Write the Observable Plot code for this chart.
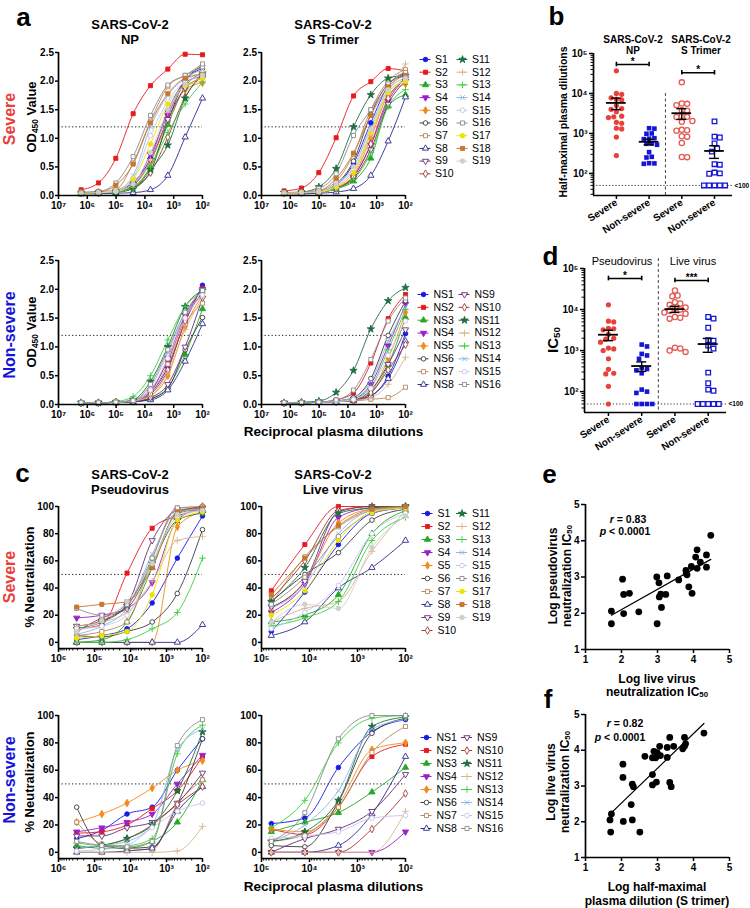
<!DOCTYPE html>
<html><head><meta charset="utf-8">
<script src="https://cdn.jsdelivr.net/npm/d3@7"></script>
<script src="https://cdn.jsdelivr.net/npm/@observablehq/plot@0.6"></script>
<style>
body{margin:0;background:#fff;}
#fig{position:relative;width:750px;height:908px;overflow:hidden;font-family:"Liberation Sans",Arial,sans-serif;color:#000;background:#fff;}
.t{position:absolute;white-space:nowrap;line-height:1;text-align:center;}
sub{font-size:0.65em;vertical-align:-0.25em;line-height:0;}
svg{overflow:visible;}
</style></head><body><div id="fig"></div>
<script>
// ---------------- DATA ----------------
const severeIds = ["S1","S2","S3","S4","S5","S6","S7","S8","S9","S10","S11","S12","S13","S14","S15","S16","S17","S18","S19"];
const nonSevereIds = ["NS1","NS2","NS3","NS4","NS5","NS6","NS7","NS8","NS9","NS10","NS11","NS12","NS13","NS14","NS15","NS16"];
const dilutionsOD = [1638400, 409600, 102400, 25600, 6400, 1600, 400, 100];
const dilutionsPseudo = [312500, 62500, 12500, 2500, 500, 100];
const dilutionsLive = [62500, 12500, 2500, 500, 100];
const odDecades = [1e7, 1e6, 1e5, 1e4, 1e3, 1e2];
const pseudoDecades = [1e6, 1e5, 1e4, 1e3, 1e2];
const liveDecades = [1e5, 1e4, 1e3, 1e2];
const odTicks = [0, 0.5, 1.0, 1.5, 2.0, 2.5];
const neutTicks = [0, 20, 40, 60, 80, 100];
const logDecades = [1e2, 1e3, 1e4, 1e5];
const scatterTicks = [1, 2, 3, 4, 5];
const groupLabels = ["Severe", "Non-severe", "Severe", "Non-severe"];

// OD450 (panel a)
const odNPSevere = [
 [0.05,0.05,0.09,0.23,0.65,1.48,2.02,2.27],
 [0.10,0.22,0.65,1.43,1.92,2.21,2.47,2.46],
 [0.04,0.05,0.07,0.15,0.50,1.24,1.90,2.15],
 [0.05,0.05,0.08,0.20,0.72,1.40,1.98,2.08],
 [0.04,0.05,0.07,0.17,0.58,1.30,1.85,1.97],
 [0.04,0.05,0.06,0.14,0.42,1.30,2.00,2.22],
 [0.05,0.06,0.10,0.57,1.30,1.90,2.10,2.25],
 [0.03,0.03,0.04,0.05,0.10,0.35,1.02,1.70],
 [0.04,0.05,0.07,0.18,0.62,1.33,1.88,2.05],
 [0.04,0.05,0.06,0.12,0.40,1.02,1.72,2.10],
 [0.04,0.05,0.06,0.12,0.45,0.88,1.70,2.14],
 [0.04,0.05,0.07,0.20,0.62,1.45,1.90,2.00],
 [0.04,0.05,0.06,0.14,0.50,1.10,1.60,1.98],
 [0.05,0.06,0.09,0.35,1.20,1.75,2.05,2.20],
 [0.05,0.06,0.08,0.30,1.05,1.65,2.00,2.15],
 [0.06,0.07,0.22,0.68,1.40,1.93,2.10,2.30],
 [0.05,0.05,0.08,0.28,0.90,1.60,1.92,2.05],
 [0.05,0.06,0.18,0.55,1.27,1.78,2.05,2.12],
 [0.04,0.05,0.07,0.20,0.75,1.50,1.95,2.10]
];
const odSTrimerSevere = [
 [0.05,0.05,0.07,0.18,0.56,1.27,1.92,2.15],
 [0.08,0.13,0.40,1.01,1.74,1.99,2.22,2.18],
 [0.04,0.05,0.06,0.12,0.25,0.65,1.56,1.76],
 [0.04,0.05,0.06,0.13,0.33,0.88,1.65,2.05],
 [0.04,0.05,0.06,0.14,0.35,1.00,1.75,1.95],
 [0.04,0.05,0.07,0.20,0.60,1.42,1.95,2.10],
 [0.04,0.05,0.08,0.25,0.72,1.50,2.00,2.20],
 [0.03,0.03,0.04,0.06,0.12,0.35,0.95,1.72],
 [0.04,0.05,0.06,0.12,0.30,0.80,1.60,2.00],
 [0.04,0.05,0.06,0.12,0.33,0.90,1.70,2.05],
 [0.05,0.06,0.15,0.47,1.20,1.76,2.05,2.10],
 [0.04,0.05,0.06,0.14,0.40,1.05,1.80,2.30],
 [0.04,0.05,0.06,0.12,0.28,0.75,1.55,1.85],
 [0.04,0.05,0.07,0.18,0.50,1.20,1.85,2.05],
 [0.04,0.05,0.07,0.16,0.45,1.10,1.80,2.00],
 [0.05,0.06,0.12,0.38,1.05,1.50,1.95,2.15],
 [0.04,0.05,0.06,0.15,0.40,1.10,1.80,2.00],
 [0.04,0.05,0.08,0.30,0.74,1.40,1.90,2.10],
 [0.04,0.05,0.07,0.20,0.50,1.15,1.85,2.05]
];
const odNPNonSevere = [
 [0.03,0.03,0.04,0.06,0.20,0.65,1.43,2.07],
 [0.03,0.03,0.04,0.07,0.25,0.76,1.50,2.02],
 [0.03,0.03,0.04,0.05,0.10,0.30,0.87,1.66],
 [0.03,0.03,0.04,0.06,0.22,0.80,1.55,2.00],
 [0.03,0.03,0.04,0.06,0.15,0.50,1.35,1.90],
 [0.03,0.03,0.04,0.05,0.10,0.28,0.95,1.51],
 [0.03,0.03,0.04,0.06,0.20,0.70,1.40,1.76],
 [0.03,0.03,0.03,0.05,0.08,0.25,0.75,1.40],
 [0.03,0.03,0.04,0.05,0.12,0.35,1.00,1.85],
 [0.03,0.03,0.04,0.06,0.18,0.60,1.45,1.95],
 [0.03,0.03,0.04,0.08,0.40,1.00,1.70,1.98],
 [0.03,0.03,0.04,0.06,0.15,0.55,1.30,1.85],
 [0.03,0.03,0.05,0.14,0.50,1.12,1.70,1.95],
 [0.03,0.03,0.04,0.07,0.30,0.90,1.55,1.92],
 [0.03,0.03,0.04,0.06,0.25,0.80,1.50,1.90],
 [0.03,0.03,0.04,0.07,0.35,0.95,1.60,1.98]
];
const odSTrimerNonSevere = [
 [0.03,0.03,0.04,0.06,0.08,0.15,0.49,1.23],
 [0.03,0.03,0.04,0.08,0.20,0.72,1.49,1.91],
 [0.03,0.03,0.04,0.05,0.07,0.20,0.69,1.51],
 [0.03,0.03,0.04,0.06,0.10,0.35,1.02,1.74],
 [0.03,0.03,0.04,0.05,0.08,0.22,0.80,1.60],
 [0.03,0.03,0.04,0.06,0.12,0.45,1.20,1.80],
 [0.03,0.03,0.04,0.05,0.06,0.09,0.12,0.30],
 [0.03,0.03,0.04,0.05,0.07,0.15,0.45,1.10],
 [0.03,0.03,0.04,0.05,0.08,0.25,0.70,1.30],
 [0.03,0.03,0.04,0.05,0.07,0.20,0.60,1.04],
 [0.03,0.04,0.06,0.21,0.59,1.31,1.80,2.03],
 [0.03,0.03,0.04,0.05,0.07,0.12,0.35,0.82],
 [0.03,0.03,0.04,0.06,0.10,0.30,0.95,1.65],
 [0.03,0.03,0.04,0.06,0.12,0.40,1.10,1.70],
 [0.03,0.03,0.04,0.05,0.09,0.28,0.85,1.45],
 [0.03,0.03,0.04,0.08,0.25,0.78,1.45,1.85]
];
// % neutralization (panel c)
const neutPseudoSevere = [
 [2,5,10,29,62,93],[10,13,51,84,93,98],[0,2,15,55,95,98],[18,20,25,44,90,99],
 [0,0,0,0,85,96],[5,4,8,15,36,83],[5,8,15,62,99,99],[0,0,0,0,0,13],
 [12,16,28,75,97,99],[8,18,25,58,95,100],[10,15,27,58,90,95],[12,15,22,45,75,78],
 [0,0,2,10,22,62],[6,12,25,65,96,98],[10,12,20,58,92,97],[25,20,28,62,99,100],
 [3,5,8,35,90,96],[26,28,30,55,96,99],[8,16,30,58,94,97]
];
const neutLiveSevere = [
 [8,37,72,95,99],[38,72,100,100,100],[15,20,35,80,97],[22,43,92,99,100],
 [25,45,88,98,99],[30,50,66,90,98],[28,63,85,97,99],[5,15,40,55,75],
 [26,45,96,100,100],[32,60,97,100,100],[30,55,95,99,100],[15,25,30,67,97],
 [12,18,30,75,92],[25,42,80,97,99],[10,22,42,80,95],[28,48,78,95,99],
 [20,38,75,96,99],[35,62,86,98,100],[15,28,25,70,93]
];
const neutPseudoNonSevere = [
 [10,16,28,33,60,83],[14,15,20,32,45,70],[5,3,3,8,22,53],[15,18,22,28,50,71],
 [22,28,36,47,60,67],[33,5,3,4,35,83],[22,6,3,2,35,53],[0,0,1,3,30,48],
 [12,12,18,22,36,58],[3,5,10,20,35,48],[3,5,10,20,45,88],[0,0,0,0,1,19],
 [7,5,5,10,72,93],[3,5,8,20,75,90],[1,2,5,18,30,36],[8,5,4,8,78,97]
];
const neutLiveNonSevere = [
 [21,25,62,88,97],[17,13,33,70,79],[15,22,29,44,62],[0,0,0,0,15],
 [17,15,35,75,80],[5,4,37,87,98],[8,13,33,73,92],[0,0,5,28,70],
 [0,10,17,30,57],[0,0,0,17,43],[8,15,38,92,99],[0,0,0,0,30],
 [18,38,80,98,100],[8,20,45,90,97],[10,12,15,25,27],[8,29,83,100,100]
];
// Half-maximal plasma dilutions (panel b); values below 100 plotted at 50
const halfMaxNPSevere = [37000,10000,9500,7800,7200,6900,5000,4200,4000,3500,2700,2600,2500,1900,1800,1350,1300,810,280];
const halfMaxNPNonSevere = [1350,1320,1000,980,760,740,720,560,550,520,340,260,250,180,178,174];
const halfMaxSSevere = [19000,5600,5500,5100,3800,3700,2700,2600,2570,2040,1950,1230,1200,1170,850,830,575,257,255];
const halfMaxSNonSevere = [2000,830,790,560,420,350,170,165,105,100,98,50,50,50,50,50];
const sigLabelsB = ["*", "*"];
const sigLevelsB = [53000, 33000];
// IC50 (panel d)
const ic50PseudoSevere = [13000,5200,5000,3500,3400,3200,2500,2000,1900,1600,1150,1100,1000,630,350,280,270,135,50];
const ic50PseudoNonSevere = [1400,1260,830,760,630,380,355,330,280,112,100,93,50,50,50,50];
const ic50LiveSevere = [29000,22000,21000,15000,14000,13000,11200,10500,10000,9300,8500,7900,6600,6300,6000,1180,1120,1000,930];
const ic50LiveNonSevere = [6600,6000,3600,1800,1740,1320,1120,290,160,112,105,50,50,50,50,50];
const sigLabelsD = ["*", "***"];
const sigLevelsD = [57000, 51000];
// Correlations (panels e, f)
const eLogLiveIC50 = [4.48,4.10,4.06,4.36,4.19,3.94,4.10,4.36,3.79,3.80,3.82,3.59,3.87,3.96,2.98,3.27,3.04,3.09,3.05,3.23,3.11,2.99,2.03,2.06,2.22,2.06,2.48,1.72,1.72];
const eLogPseudoIC50 = [4.15,3.75,3.55,3.61,3.41,3.29,3.24,3.27,3.18,3.10,3.06,2.92,2.73,2.55,3.00,3.03,2.84,2.53,2.45,2.52,2.16,1.71,2.94,2.52,2.55,1.99,2.04,2.06,1.71];
const fLogSTrimer = [4.29,3.75,3.34,3.75,3.78,3.70,3.45,3.27,3.06,2.90,2.99,3.08,3.27,2.86,2.95,2.65,2.86,2.97,2.86,3.34,3.38,2.30,2.33,2.04,2.04,2.27,1.72,1.68,2.05,2.30,1.70,2.51];
const fLogLiveIC50 = [4.48,4.36,4.36,4.11,4.18,4.04,4.11,4.08,4.11,3.97,3.93,3.85,3.80,3.79,3.79,3.83,3.32,3.11,3.03,3.10,2.98,3.05,2.98,3.61,3.24,2.48,2.22,2.05,2.01,2.05,1.71,1.71];

// ---------------- STYLES ----------------
const sampleColors = ["#1a1ae6","#e8191e","#22a822","#9c1fc8","#f28a1c","#3a3a3a","#b8875a","#2b2b8c","#6b2d72","#a23a34","#1f6e42","#d9b48a","#3ccf3c","#8cb6e6","#c6c4ee","#8c8c8c","#ece400","#c8762e","#cfcfcf"];
const sampleShapes = ["circle","square","triangle","triangleDown","diamond","circle","square","triangle","triangleDown","diamond","star","plus","plus","times","circle","square","circle","square","circle"];
const sampleFilled = [1,1,1,1,1,0,0,0,0,0,1,1,1,1,0,0,1,1,1];
const FONT = '"Liberation Sans", Arial, sans-serif';
const RED = "#e8413b", BLUE = "#1515d8";

const triangleDown = {draw(ctx, size) { const s3 = Math.sqrt(3); const y = -Math.sqrt(size / (s3 * 3)); ctx.moveTo(0, -y * 2); ctx.lineTo(-s3 * y, y); ctx.lineTo(s3 * y, y); ctx.closePath(); }};
const shapeOf = s => s === "triangleDown" ? triangleDown : s;
const supMap = {"0":"⁰","1":"¹","2":"²","3":"³","4":"⁴","5":"⁵","6":"⁶","7":"⁷","8":"⁸","9":"⁹"};
const supTen = v => "10" + String(Math.round(Math.log10(v))).split("").map(c => supMap[c]).join("");
function minorLog(lo, hi) { const out = []; for (let d = 10 ** Math.floor(Math.log10(lo)); d < hi; d *= 10) for (let k = 2; k <= 9; k++) { const v = d * k; if (v > lo && v < hi) out.push(v); } return out; }

const fig = document.getElementById("fig");
function put(node, x, y) { node.style.position = "absolute"; node.style.left = x + "px"; node.style.top = y + "px"; node.style.maxWidth = "none"; fig.appendChild(node); return node; }
function txt(html, x, y, css = {}, rot = false) {
  const d = document.createElement("div"); d.className = "t"; d.innerHTML = html;
  d.style.left = x + "px"; d.style.top = y + "px";
  d.style.transform = "translate(-50%,-50%)" + (rot ? " rotate(-90deg)" : "");
  Object.assign(d.style, css); fig.appendChild(d); return d;
}
function framePlot(fr, m, options) {
  const [ml, mt, mr, mb] = m;
  const svg = Plot.plot({
    width: fr.w + ml + mr, height: fr.h + mt + mb,
    marginLeft: ml, marginTop: mt, marginRight: mr, marginBottom: mb,
    style: {background: "transparent", fontFamily: FONT, fontSize: "10px", fontWeight: "bold", overflow: "visible", color: "#000"},
    ...options
  });
  return put(svg, fr.x - ml, fr.y - mt);
}

// ---------------- CURVE PANELS (a, c) ----------------
function curvePanel(fr, ids, values, dils, cfg) {
  const rows = values.flatMap((arr, i) => arr.map((v, j) => ({id: ids[i], i, x: dils[j], y: v})));
  const col = d => sampleColors[d.i];
  const marks = [
    Plot.ruleY([cfg.ref], {stroke: "#222", strokeDasharray: "1.3,2.2", strokeWidth: 1}),
    Plot.line(rows, {x: "x", y: "y", z: "id", stroke: col, strokeWidth: 0.9, curve: "monotone-x"}),
    Plot.dot(rows, {x: "x", y: "y", symbol: "id", r: 2.3, stroke: col, fill: d => sampleFilled[d.i] ? col(d) : "white", strokeWidth: 0.9}),
    Plot.ruleX([cfg.xDomain[0]], {strokeWidth: 1.7}),
    Plot.ruleY([cfg.yDomain[0]], {strokeWidth: 1.7}),
    Plot.axisY({ticks: cfg.yTicks, tickFormat: cfg.yFmt, tickSize: 3, tickPadding: 1.5, strokeWidth: 1.5, label: null}),
    Plot.axisX({ticks: cfg.xTicks, tickFormat: supTen, tickSize: 4, tickPadding: 2, strokeWidth: 1.5, label: null})
  ];
  if (cfg.minor) marks.push(Plot.axisX({ticks: minorLog(cfg.xDomain[1], cfg.xDomain[0]), tickFormat: () => "", tickSize: 2.5, strokeWidth: 1, label: null}));
  return framePlot(fr, [34, 6, 10, 24], {
    x: {type: "log", domain: cfg.xDomain},
    y: {domain: cfg.yDomain},
    symbol: {domain: ids, range: ids.map((_, i) => shapeOf(sampleShapes[i]))},
    marks
  });
}
const cfgOD = {yDomain: [0, 2.5], yTicks: odTicks, yFmt: d3.format(".1f"), ref: 1.2, xDomain: [1e7, 1e2], xTicks: odDecades, minor: false};
const cfgPseudo = {yDomain: [-4.5, 100], yTicks: neutTicks, yFmt: d => d, ref: 50, xDomain: [1e6, 1e2], xTicks: pseudoDecades, minor: true};
const cfgLive = {yDomain: [-4.5, 100], yTicks: neutTicks, yFmt: d => d, ref: 50, xDomain: [1e5, 1e2], xTicks: liveDecades, minor: true};

curvePanel({x: 58, y: 52, w: 144, h: 143}, severeIds, odNPSevere, dilutionsOD, cfgOD);
curvePanel({x: 261, y: 52, w: 144, h: 143}, severeIds, odSTrimerSevere, dilutionsOD, cfgOD);
curvePanel({x: 58, y: 260, w: 144, h: 144}, nonSevereIds, odNPNonSevere, dilutionsOD, cfgOD);
curvePanel({x: 261, y: 260, w: 144, h: 144}, nonSevereIds, odSTrimerNonSevere, dilutionsOD, cfgOD);
curvePanel({x: 58, y: 506, w: 144, h: 142}, severeIds, neutPseudoSevere, dilutionsPseudo, cfgPseudo);
curvePanel({x: 261, y: 506, w: 144, h: 142}, severeIds, neutLiveSevere, dilutionsLive, cfgLive);
curvePanel({x: 58, y: 715, w: 144, h: 143}, nonSevereIds, neutPseudoNonSevere, dilutionsPseudo, cfgPseudo);
curvePanel({x: 261, y: 715, w: 144, h: 143}, nonSevereIds, neutLiveNonSevere, dilutionsLive, cfgLive);

// ---------------- LEGENDS ----------------
function legendPlot(ids, perCol, x0, colGap, y0, sp, textGap) {
  const rows = ids.map((id, i) => ({id, i, cx: 6 + Math.floor(i / perCol) * colGap, cy: 6 + (i % perCol) * sp}));
  const W = 6 + colGap + 50, H = 12 + (perCol - 1) * sp;
  const col = d => sampleColors[d.i];
  const svg = Plot.plot({
    width: W, height: H, margin: 0,
    x: {domain: [0, W], range: [0, W], axis: null},
    y: {domain: [0, H], range: [0, H], axis: null},
    symbol: {domain: ids, range: ids.map((_, i) => shapeOf(sampleShapes[i]))},
    style: {background: "transparent", fontFamily: FONT, fontSize: "10.5px", overflow: "visible", color: "#000"},
    marks: [
      Plot.ruleY(rows, {y: "cy", x1: d => d.cx - 5.5, x2: d => d.cx + 5.5, stroke: col, strokeWidth: 1}),
      Plot.dot(rows, {x: "cx", y: "cy", symbol: "id", r: 2.3, stroke: col, fill: d => sampleFilled[d.i] ? col(d) : "white", strokeWidth: 0.9}),
      Plot.text(rows, {x: d => d.cx + textGap, y: "cy", text: "id", textAnchor: "start", fontSize: 10.5})
    ]
  });
  put(svg, x0 - 6, y0 - 6);
}
legendPlot(severeIds, 10, 425, 37, 59, 12.7, 9.5);
legendPlot(nonSevereIds, 8, 423, 41, 294, 12.86, 10);
legendPlot(severeIds, 10, 427, 34.5, 513, 13.0, 10);
legendPlot(nonSevereIds, 8, 425.5, 40.5, 737, 13.0, 10);

// ---------------- DOT PANELS (b, d) ----------------
function swarm(values, g, pxU, pxD, diam) {
  const order = values.map((v, k) => k).sort((a, b) => values[b] - values[a]);
  const placed = [], out = new Array(values.length);
  for (const k of order) {
    const yp = Math.log10(values[k]) * pxD;
    for (let s = 0; s < 60; s++) {
      const off = (s % 2 ? 1 : -1) * Math.ceil(s / 2) * diam * 0.5;
      if (placed.every(p => Math.hypot(p.x - off, p.y - yp) >= diam)) { placed.push({x: off, y: yp}); out[k] = g + off / pxU; break; }
    }
  }
  return out;
}
const groupStyles = [
  {color: RED, shape: "circle", filled: true},
  {color: BLUE, shape: "square", filled: true},
  {color: "#e45a55", shape: "circle", filled: false},
  {color: BLUE, shape: "square", filled: false}
];
function dotPanel(fr, groups, cfg) {
  const pxU = fr.w / (cfg.xDomain[1] - cfg.xDomain[0]);
  const pxD = fr.h / (Math.log10(cfg.yDomain[1]) - Math.log10(cfg.yDomain[0]));
  const pts = groups.flatMap((vals, g) => { const xs = swarm(vals, g, pxU, pxD, 5.3); return vals.map((v, k) => ({g, x: xs[k], y: v})); });
  const stats = groups.map((vals, g) => { const m = d3.mean(vals), s = d3.deviation(vals) / Math.sqrt(vals.length); return {g, m, lo: m - s, hi: m + s}; });
  const sig = cfg.sigLabels.map((t, k) => ({t, a: 2 * k, b: 2 * k + 1, y: cfg.sigLevels[k]}));
  return framePlot(fr, [36, 20, 24, 60], {
    x: {domain: cfg.xDomain},
    y: {type: "log", domain: cfg.yDomain},
    marks: [
      Plot.ruleY([50], {stroke: "#333", strokeDasharray: "1.2,2", strokeWidth: 1}),
      Plot.text(["<100"], {x: cfg.xDomain[1], y: 50, dx: 2, textAnchor: "start", fontSize: 6.5}),
      Plot.ruleX([1.5], {y1: cfg.sepTop, y2: cfg.yDomain[0], stroke: "#444", strokeDasharray: "3,2.5", strokeWidth: 1}),
      groups.map((_, g) => Plot.dot(pts.filter(p => p.g === g), {x: "x", y: "y", r: 2.6, symbol: groupStyles[g].shape,
        fill: groupStyles[g].filled ? groupStyles[g].color : "white", stroke: groupStyles[g].color, strokeWidth: groupStyles[g].filled ? 0 : 1.3})),
      Plot.ruleY(stats, {y: "m", x1: d => d.g - 0.3, x2: d => d.g + 0.3, strokeWidth: 1.8}),
      Plot.ruleX(stats, {x: "g", y1: "lo", y2: "hi", strokeWidth: 1.4}),
      Plot.ruleY(stats, {y: "lo", x1: d => d.g - 0.15, x2: d => d.g + 0.15, strokeWidth: 1.4}),
      Plot.ruleY(stats, {y: "hi", x1: d => d.g - 0.15, x2: d => d.g + 0.15, strokeWidth: 1.4}),
      Plot.ruleY(sig, {y: "y", x1: "a", x2: "b", strokeWidth: 1.6}),
      Plot.ruleX(sig, {x: "a", y1: d => d.y / 1.14, y2: d => d.y * 1.14, strokeWidth: 1.6}),
      Plot.ruleX(sig, {x: "b", y1: d => d.y / 1.14, y2: d => d.y * 1.14, strokeWidth: 1.6}),
      Plot.text(sig, {x: d => (d.a + d.b) / 2, y: "y", text: "t", dy: -2.5, fontSize: 10}),
      Plot.ruleX([cfg.xDomain[0]], {strokeWidth: 1.7}),
      Plot.ruleY([cfg.yDomain[0]], {strokeWidth: 1.7}),
      Plot.axisY({ticks: logDecades, tickFormat: supTen, tickSize: 4, tickPadding: 2, strokeWidth: 1.5, label: null}),
      Plot.axisY({ticks: minorLog(cfg.yDomain[0], cfg.yDomain[1]), tickFormat: () => "", tickSize: 2.5, strokeWidth: 1, label: null}),
      Plot.axisX({ticks: [0, 1, 2, 3], tickFormat: i => groupLabels[i], tickRotate: -33, tickSize: 4, tickPadding: 2, strokeWidth: 1.5, fontSize: 10, label: null})
    ]
  });
}
dotPanel({x: 593, y: 53, w: 139, h: 142}, [halfMaxNPSevere, halfMaxNPNonSevere, halfMaxSSevere, halfMaxSNonSevere],
  {xDomain: [-0.7, 3.55], yDomain: [28, 1e5], sepTop: 1e4, sigLabels: sigLabelsB, sigLevels: sigLevelsB});
dotPanel({x: 584, y: 268, w: 142, h: 144}, [ic50PseudoSevere, ic50PseudoNonSevere, ic50LiveSevere, ic50LiveNonSevere],
  {xDomain: [-0.72, 3.55], yDomain: [31, 1e5], sepTop: 1.75e5, sigLabels: sigLabelsD, sigLevels: sigLevelsD});

// ---------------- SCATTER PANELS (e, f) ----------------
function scatterPanel(fr, xs, ys) {
  const pts = xs.map((x, k) => ({x, y: ys[k]}));
  return framePlot(fr, [26, 8, 10, 24], {
    x: {domain: [1, 5]}, y: {domain: [1, 5]},
    marks: [
      Plot.ruleX([1], {strokeWidth: 1.7}),
      Plot.ruleY([1], {strokeWidth: 1.7}),
      Plot.axisX({ticks: scatterTicks, tickFormat: d => String(d), tickSize: 4, tickPadding: 2, strokeWidth: 1.5, label: null}),
      Plot.axisY({ticks: scatterTicks, tickFormat: d => String(d), tickSize: 4, tickPadding: 2, strokeWidth: 1.5, label: null}),
      Plot.linearRegressionY(pts, {x: "x", y: "y", ci: 0, stroke: "#000", strokeWidth: 1.2}),
      Plot.dot(pts, {x: "x", y: "y", r: 3.4, fill: "#000"})
    ]
  });
}
scatterPanel({x: 585, y: 504, w: 144, h: 145}, eLogLiveIC50, eLogPseudoIC50);
scatterPanel({x: 585, y: 714, w: 144, h: 143}, fLogSTrimer, fLogLiveIC50);

// ---------------- TEXT ----------------
const letter = {fontWeight: "bold", fontSize: "26px"};
txt("a", 23.5, 16.5, letter); txt("b", 556.5, 15.5, letter); txt("c", 22.5, 473, letter);
txt("d", 550.5, 256, letter); txt("e", 549.5, 474, letter); txt("f", 548, 699, letter);

const t13 = {fontWeight: "bold", fontSize: "13px", lineHeight: "14.5px"};
txt("SARS-CoV-2<br>NP", 130, 32, t13);
txt("SARS-CoV-2<br>S Trimer", 333, 32, t13);
txt("SARS-CoV-2<br>Pseudovirus", 130, 482, t13);
txt("SARS-CoV-2<br>Live virus", 333, 482, t13);
const t10 = {fontWeight: "bold", fontSize: "10px", lineHeight: "11px"};
txt("SARS-CoV-2<br>NP", 633, 45, t10);
txt("SARS-CoV-2<br>S Trimer", 701, 45, t10);
txt("Pseudovirus", 622, 261, {fontSize: "11px"});
txt("Live virus", 693, 261, {fontSize: "11px"});

const rowLab = c => ({fontWeight: "bold", fontSize: "16px", color: c});
txt("Severe", 10, 119, rowLab(RED), true);
txt("Non-severe", 10, 335, rowLab(BLUE), true);
txt("Severe", 10, 577, rowLab(RED), true);
txt("Non-severe", 10, 780, rowLab(BLUE), true);
const ax13 = {fontWeight: "bold", fontSize: "13px"};
txt("OD<sub>450</sub> Value", 31, 117, ax13, true);
txt("OD<sub>450</sub> Value", 31, 332, ax13, true);
txt("% Neutralization", 29, 577, ax13, true);
txt("% Neutralization", 29, 782, ax13, true);
txt("Reciprocal plasma dilutions", 333.5, 432, {fontWeight: "bold", fontSize: "13.5px"});
txt("Reciprocal plasma dilutions", 333.5, 887, {fontWeight: "bold", fontSize: "13.5px"});

txt("Half-maximal plasma dilutions", 563, 122, {fontWeight: "bold", fontSize: "10.5px"}, true);
txt("IC<sub>50</sub>", 552, 340, {fontWeight: "bold", fontSize: "15px"}, true);

const ax12 = {fontWeight: "bold", fontSize: "12px", lineHeight: "13.5px"};
txt("Log pseudovirus<br>neutralization IC<sub>50</sub>", 560, 576, ax12, true);
txt("Log live virus<br>neutralization IC<sub>50</sub>", 657, 685.5, ax12);
txt("Log live virus<br>neutralization IC<sub>50</sub>", 557.5, 782, ax12, true);
txt("Log half-maximal<br>plasma dilution (S trimer)", 657, 894, ax12);
const rp = {fontWeight: "bold", fontSize: "10.5px"};
txt("<i>r</i> = 0.83", 628, 519, rp); txt("<i>p</i> &lt; 0.0001", 625, 531, rp);
txt("<i>r</i> = 0.82", 625, 723, rp); txt("<i>p</i> &lt; 0.0001", 620, 737, rp);
</script></body></html>
